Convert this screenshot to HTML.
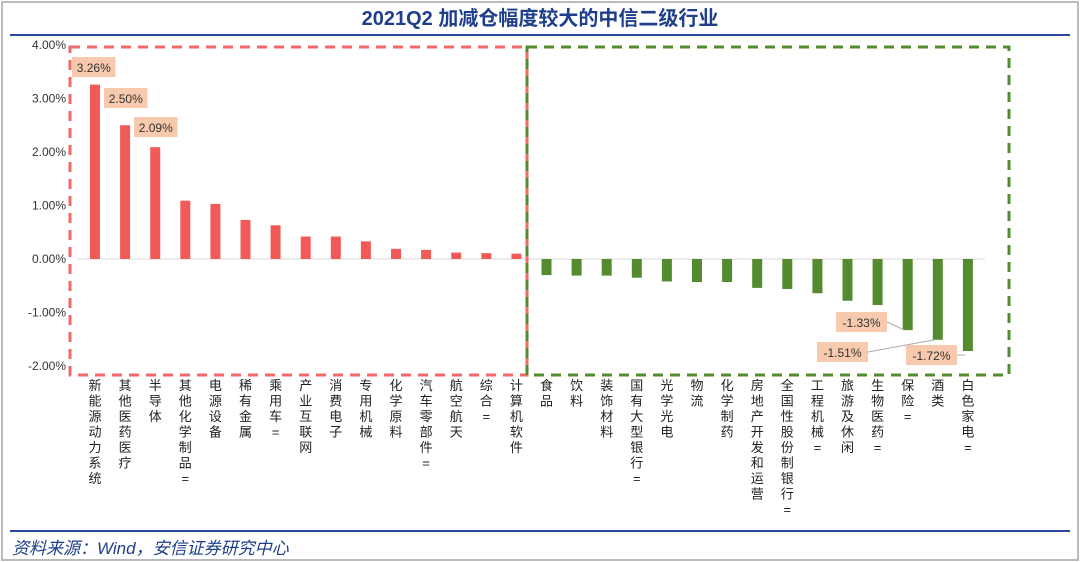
<!DOCTYPE html>
<html><head><meta charset="utf-8"><style>
body{margin:0;background:#fff;}
#wrap{position:relative;width:1080px;height:562px;overflow:hidden;background:#fff;}
text{font-family:"Liberation Sans","Noto Sans CJK SC",sans-serif;}
</style></head><body>
<div id="wrap">
<svg id="svg" width="1080" height="562">
<rect x="2" y="2" width="1076" height="558" fill="none" stroke="#bbb" stroke-width="2"/>
<text x="540" y="25" text-anchor="middle" font-size="20" font-weight="bold" fill="#1f3f8a">2021Q2 加减仓幅度较大的中信二级行业</text>
<line x1="10" y1="35" x2="1070" y2="35" stroke="#2a4a9a" stroke-width="2"/>
<line x1="10" y1="531" x2="1070" y2="531" stroke="#2a4a9a" stroke-width="2"/>
<text x="12" y="554" font-size="17" font-style="italic" fill="#1f3f8a">资料来源：Wind，安信证券研究中心</text>
<g id="plot"></g>
</svg>
</div>
<script>
const categories=["新能源动力系统","其他医药医疗","半导体","其他化学制品=","电源设备","稀有金属","乘用车=","产业互联网","消费电子","专用机械","化学原料","汽车零部件=","航空航天","综合=","计算机软件","食品","饮料","装饰材料","国有大型银行=","光学光电","物流","化学制药","房地产开发和运营","全国性股份制银行=","工程机械=","旅游及休闲","生物医药=","保险=","酒类","白色家电="];
const values=[3.26,2.50,2.09,1.09,1.03,0.73,0.63,0.42,0.42,0.33,0.19,0.17,0.12,0.11,0.10,-0.30,-0.31,-0.31,-0.35,-0.42,-0.43,-0.43,-0.54,-0.56,-0.64,-0.78,-0.86,-1.33,-1.51,-1.72];
const yTicks=[4,3,2,1,0,-1,-2];
const labeled=[0,1,2,27,28,29];
const NS="http://www.w3.org/2000/svg";
const g=document.getElementById('plot');
const y=v=>259-v*53.5;
const x=i=>95+i*30.1;
function mk(t,a){const e=document.createElementNS(NS,t);for(const k in a)e.setAttribute(k,a[k]);g.appendChild(e);return e;}
yTicks.forEach(t=>{const e=mk('text',{x:66,y:y(t)+4,'text-anchor':'end','font-size':12,fill:'#333'});e.textContent=t.toFixed(2)+'%';

});
const zl=mk('line',{x1:78,y1:y(0),x2:985,y2:y(0),stroke:'#d8d8d8'});


values.forEach((v,i)=>{
 const r=mk('rect',{x:x(i)-5,y:Math.min(y(0),y(v)),width:10,height:Math.abs(y(v)-y(0)),fill:v>=0?'#f25a5a':'#548b2f'});
 
 
 const t=mk('text',{'font-size':13,fill:'#222','text-anchor':'middle'});
 
 
 [...categories[i]].forEach((c,k)=>{const s=document.createElementNS(NS,'tspan');s.setAttribute('x',x(i));s.setAttribute('y',390+k*15.5);s.textContent=c;t.appendChild(s);});
});
const pos={0:[72,57],1:[104,88],2:[134,117],27:[836,312],28:[817,342],29:[906,345]};
labeled.forEach(i=>{
 const [lx,ly]=pos[i];const txt=values[i].toFixed(2)+'%';const w=txt.length*7.5+6;
 if(i>=27){
  const ax=i===29?lx+w:lx+w;const ay=ly+10;
  const ln=mk('line',{x1:ax,y1:ay,x2:x(i)-3,y2:y(values[i])-(i===29?-4:0),stroke:'#aaa','stroke-width':1});
  
  
 }
 const b=mk('rect',{x:lx,y:ly,width:w,height:20,fill:'#f7c9ad'});
 
 
 const t=mk('text',{x:lx+w/2,y:ly+15,'text-anchor':'middle','font-size':12,fill:'#333'});t.textContent=txt;
 
 
});
const r1=mk('rect',{x:70,y:47,width:457,height:328,fill:'none',stroke:'#f06a6a','stroke-width':3,'stroke-dasharray':'10 7'});


const r2=mk('rect',{x:527,y:47,width:482,height:328,fill:'none',stroke:'#548b2f','stroke-width':3,'stroke-dasharray':'10 7'});


</script>
</body></html>
